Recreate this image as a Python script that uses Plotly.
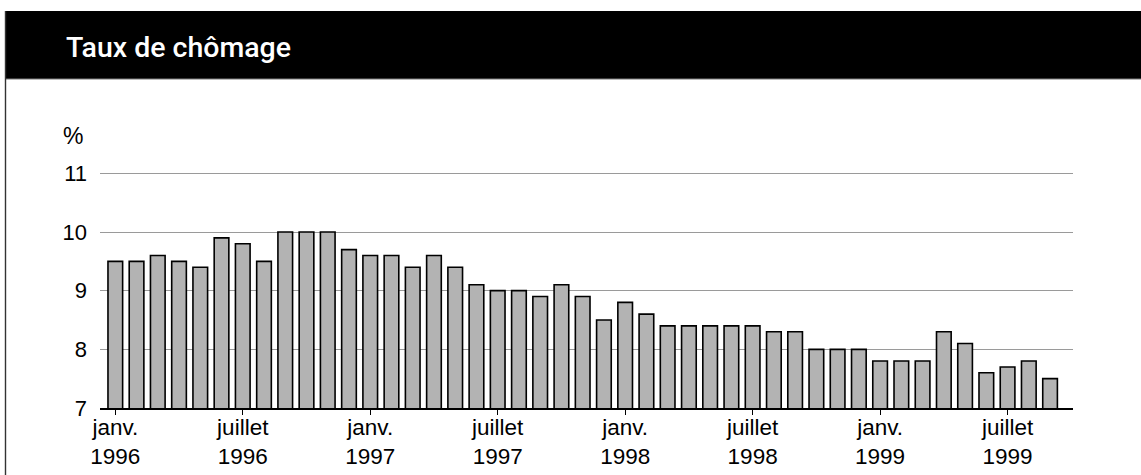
import plotly.graph_objects as go

# Monthly unemployment rate, January 1996 to September 1999 (%)
months = [
    "1996-01", "1996-02", "1996-03", "1996-04", "1996-05", "1996-06",
    "1996-07", "1996-08", "1996-09", "1996-10", "1996-11", "1996-12",
    "1997-01", "1997-02", "1997-03", "1997-04", "1997-05", "1997-06",
    "1997-07", "1997-08", "1997-09", "1997-10", "1997-11", "1997-12",
    "1998-01", "1998-02", "1998-03", "1998-04", "1998-05", "1998-06",
    "1998-07", "1998-08", "1998-09", "1998-10", "1998-11", "1998-12",
    "1999-01", "1999-02", "1999-03", "1999-04", "1999-05", "1999-06",
    "1999-07", "1999-08", "1999-09",
]
rates = [
    9.5, 9.5, 9.6, 9.5, 9.4, 9.9,
    9.8, 9.5, 10.0, 10.0, 10.0, 9.7,
    9.6, 9.6, 9.4, 9.6, 9.4, 9.1,
    9.0, 9.0, 8.9, 9.1, 8.9, 8.5,
    8.8, 8.6, 8.4, 8.4, 8.4, 8.4,
    8.4, 8.3, 8.3, 8.0, 8.0, 8.0,
    7.8, 7.8, 7.8, 8.3, 8.1, 7.6,
    7.7, 7.8, 7.5,
]
tick_months = ["1996-01", "1996-07", "1997-01", "1997-07",
               "1998-01", "1998-07", "1999-01", "1999-07"]
tick_text = ["janv.<br>1996", "juillet<br>1996", "janv.<br>1997", "juillet<br>1997",
             "janv.<br>1998", "juillet<br>1998", "janv.<br>1999", "juillet<br>1999"]
y_ticks = [7, 8, 9, 10, 11]

W, H = 1141, 475
L, R, T, B = 100, 68, 171, 67
PW, PH = W - L - R, H - T - B


def px_x(p):
    return (p - L) / PW


def px_y(p):
    return (H - B - p) / PH


FONT = "Liberation Sans, Arial, sans-serif"

fig = go.Figure(
    go.Bar(
        x=months,
        y=rates,
        marker=dict(color="#b3b3b3", line=dict(color="#000000", width=1.6)),
        hoverinfo="x+y",
    )
)

fig.update_layout(
    width=W,
    height=H,
    margin=dict(l=L, r=R, t=T, b=B, pad=0),
    paper_bgcolor="white",
    plot_bgcolor="white",
    bargap=0.31,
    showlegend=False,
    font=dict(family=FONT, size=22, color="#000000"),
    xaxis=dict(
        type="category",
        range=[-0.72, 45.08],
        automargin=False,
        tickmode="array",
        tickvals=tick_months,
        ticktext=tick_text,
        ticks="outside",
        ticklen=5,
        tickwidth=1,
        tickcolor="#000000",
        showline=True,
        linecolor="#000000",
        linewidth=2,
        showgrid=False,
        tickfont=dict(size=22.5),
        tickangle=0,
        ticklabelstandoff=-7,
    ),
    yaxis=dict(
        range=[7, 11.04],
        automargin=False,
        tickmode="array",
        tickvals=y_ticks,
        ticks="",
        showline=False,
        showgrid=True,
        gridcolor="#9a9a9a",
        gridwidth=1,
        zeroline=False,
        ticklabelstandoff=12,
        tickfont=dict(size=22),
    ),
    shapes=[
        # black title band
        dict(type="rect", xref="paper", yref="paper",
             x0=px_x(5), x1=px_x(W + 2), y0=px_y(79), y1=px_y(11),
             fillcolor="#000000", line=dict(width=0), layer="above"),
        # thin grey rule under the band
        dict(type="line", xref="paper", yref="paper",
             x0=px_x(5), x1=px_x(W + 2), y0=px_y(79), y1=px_y(79),
             line=dict(color="#7a7a7a", width=1.2)),
        # left frame edge
        dict(type="line", xref="paper", yref="paper",
             x0=px_x(5.5), x1=px_x(5.5), y0=px_y(11), y1=px_y(H + 2),
             line=dict(color="#333333", width=1.4)),
    ],
    annotations=[
        dict(text="Taux de chômage", xref="paper", yref="paper",
             x=px_x(64), y=px_y(48), xanchor="left", yanchor="middle",
             showarrow=False,
             font=dict(family="Roboto, Liberation Sans, sans-serif",
                       size=28.5, color="#ffffff", weight=500)),
        dict(text="%", xref="paper", yref="paper",
             x=px_x(61), y=px_y(136), xanchor="left", yanchor="middle",
             showarrow=False, font=dict(size=23)),
    ],
)

fig.write_html("out.html")
